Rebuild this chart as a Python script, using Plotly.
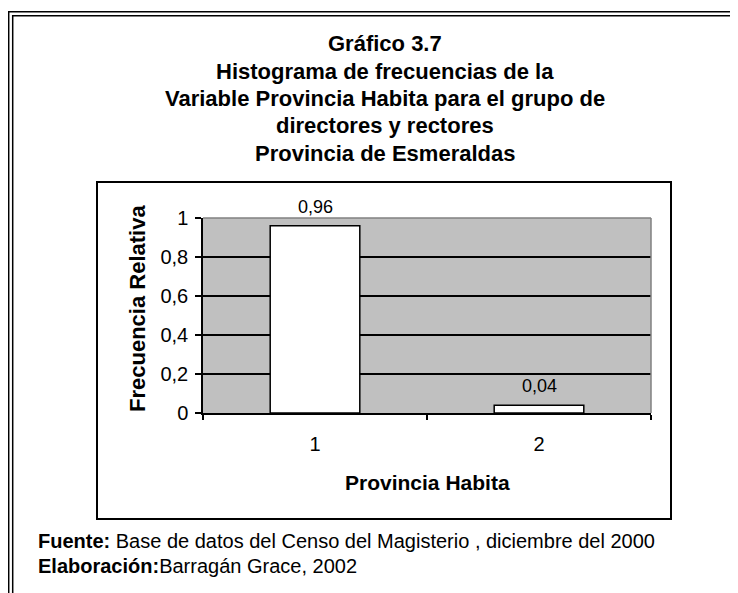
import plotly.graph_objects as go

# ---- data ----
categories = ["1", "2"]
rel_freq = [0.96, 0.04]
value_labels = ["0,96", "0,04"]
title_lines = [
    "Gráfico 3.7",
    "Histograma de frecuencias de la",
    "Variable Provincia Habita para el grupo de",
    "directores y rectores",
    "Provincia de Esmeraldas",
]
x_title = "Provincia Habita"
y_title = "Frecuencia Relativa"
footer_source_label = "Fuente:"
footer_source_text = "Base de datos del Censo del Magisterio , diciembre del 2000"
footer_author_label = "Elaboración:"
footer_author_text = "Barragán Grace, 2002"

# ---- layout geometry (screen pixels; page body has an 8px margin) ----
OFF = 8
FIG_W, FIG_H = 738 - OFF, 593 - OFF
PL, PR, PT, PB = 203, 651, 218, 413
PW, PH = PR - PL, PB - PT
FONT = "Liberation Sans, Arial, sans-serif"


def fx(x):
    return (x - PL) / PW


def fy(y):
    return (PB - y) / PH


fig = go.Figure()
fig.add_trace(go.Bar(
    x=categories,
    y=rel_freq,
    marker=dict(color="white", line=dict(color="black", width=1.5)),
    hoverinfo="skip",
))

shapes = []
# outer double frame (top and left)
shapes.append(dict(type="line", xref="paper", yref="paper", x0=fx(8), x1=fx(745), y0=fy(11.7), y1=fy(11.7),
                   line=dict(color="black", width=1.5)))
shapes.append(dict(type="line", xref="paper", yref="paper", x0=fx(12), x1=fx(745), y0=fy(15.7), y1=fy(15.7),
                   line=dict(color="black", width=1.5)))
shapes.append(dict(type="line", xref="paper", yref="paper", x0=fx(8.7), x1=fx(8.7), y0=fy(11), y1=fy(600),
                   line=dict(color="black", width=1.5)))
shapes.append(dict(type="line", xref="paper", yref="paper", x0=fx(12.7), x1=fx(12.7), y0=fy(15), y1=fy(600),
                   line=dict(color="black", width=1.5)))
# chart box
shapes.append(dict(type="rect", xref="paper", yref="paper", x0=fx(97), x1=fx(671), y0=fy(182), y1=fy(519),
                   line=dict(color="black", width=2), layer="below"))
# plot area top/right border (gray)
shapes.append(dict(type="line", xref="paper", yref="paper", x0=0, x1=1, y0=1, y1=1,
                   line=dict(color="#808080", width=1.5)))
shapes.append(dict(type="line", xref="paper", yref="paper", x0=1, x1=1, y0=0, y1=1,
                   line=dict(color="#808080", width=1.5)))

annotations = []
title_y = [43, 71, 99, 126, 153]
for line, yy in zip(title_lines, title_y):
    annotations.append(dict(text="<b>" + line + "</b>", xref="paper", yref="paper", x=fx(385), y=fy(yy),
                            xanchor="center", yanchor="middle", showarrow=False,
                            font=dict(family=FONT, size=22, color="black")))
for i, (val, lab) in enumerate(zip(rel_freq, value_labels)):
    annotations.append(dict(text=lab, x=i, y=val, xref="x", yref="y", xanchor="center", yanchor="middle",
                            yshift=19, showarrow=False, font=dict(family=FONT, size=18, color="black")))
annotations.append(dict(text="<b>" + y_title + "</b>", xref="paper", yref="paper", x=fx(137), y=fy(309),
                        xanchor="center", yanchor="middle", textangle=-90, showarrow=False,
                        font=dict(family=FONT, size=22, color="black")))
annotations.append(dict(text="<b>" + x_title + "</b>", xref="paper", yref="paper", x=fx(427), y=fy(482),
                        xanchor="center", yanchor="middle", showarrow=False,
                        font=dict(family=FONT, size=21, color="black")))
annotations.append(dict(text="<b>" + footer_source_label + "</b> " + footer_source_text,
                        xref="paper", yref="paper", x=fx(36), y=fy(541),
                        xanchor="left", yanchor="middle", showarrow=False,
                        font=dict(family=FONT, size=20, color="black")))
annotations.append(dict(text="<b>" + footer_author_label + "</b>" + footer_author_text,
                        xref="paper", yref="paper", x=fx(36), y=fy(566),
                        xanchor="left", yanchor="middle", showarrow=False,
                        font=dict(family=FONT, size=20, color="black")))

fig.update_layout(
    width=FIG_W, height=FIG_H,
    margin=dict(l=PL - OFF, r=FIG_W - (PR - OFF), t=PT - OFF, b=FIG_H - (PB - OFF), pad=0),
    paper_bgcolor="white",
    plot_bgcolor="#C0C0C0",
    separators=", ",
    showlegend=False,
    bargap=0.6,
    shapes=shapes,
    annotations=annotations,
    font=dict(family=FONT, color="black"),
)
fig.update_xaxes(
    type="category", range=[-0.5, len(categories) - 0.5], autorange=False,
    showline=True, linecolor="black", linewidth=1.5,
    ticks="outside", tickson="boundaries", ticklen=5, tickwidth=1.5, tickcolor="black",
    showgrid=False, tickfont=dict(family=FONT, size=20, color="black"),
    ticklabelstandoff=12,
)
fig.update_yaxes(
    range=[0, 1], dtick=0.2, tick0=0, showline=True, linecolor="black", linewidth=1.5,
    ticks="outside", ticklen=6, tickwidth=1.5, tickcolor="black",
    showgrid=True, gridcolor="black", gridwidth=1.5, zeroline=False,
    tickfont=dict(family=FONT, size=20, color="black"), ticklabelstandoff=3,
)

fig.write_html("out.html")
